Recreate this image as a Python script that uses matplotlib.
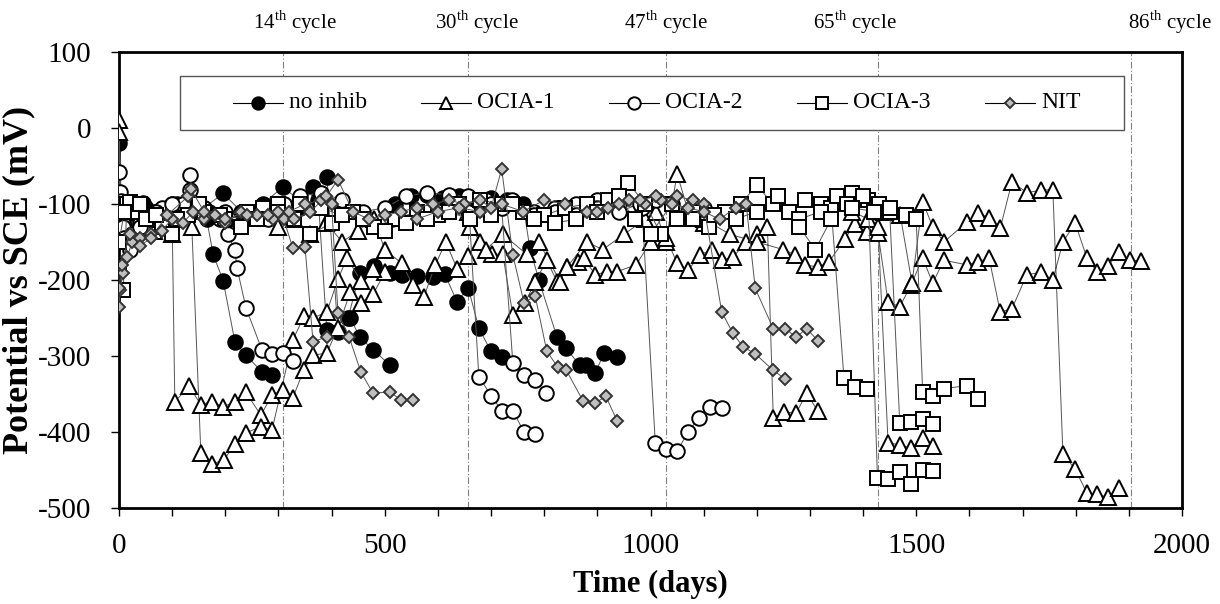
import numpy as np
import matplotlib
matplotlib.use("Agg")
import matplotlib.pyplot as plt
from matplotlib.lines import Line2D
from matplotlib.patches import Rectangle

plt.rcParams['font.family'] = ['Liberation Serif', 'DejaVu Serif']
plt.rcParams['mathtext.fontset'] = 'custom'
plt.rcParams['mathtext.rm'] = 'Liberation Serif'
plt.rcParams['axes.unicode_minus'] = False

nan = np.nan

# ---------------- data (NaN separates specimen curves) ----------------
noinhib_x = [0, 4, 10, 20, 35, 50, 70, 90, 110, 130, 150, 165, 177, 196, 218, 239, 269, 288, nan,
             0, 8, 25, 45, 70, 100, 130, 160, 196, 230, 270, 308, 340, 365, 391, 412, 435, 453, 478, 510, nan,
             308, 340, 375, 391, 431, 453, 480, 510, 532, 560, 591, 613, 636, 657, 677, 700, 720, nan,
             520, 550, 580, 610, 640, 670, 700, 730, 760, 773, 790, 824, 841, 867, 878, 896, 913, 937]
noinhib_y = [-20, -100, -125, -140, -120, -105, -110, -105, -100, -110, -105, -120, -166, -201, -281, -299, -321, -325, nan,
             -100, -135, -120, -99, -110, -100, -110, -105, -86, -110, -100, -78, -95, -78, -64, -268, -250, -275, -292, -312, nan,
             -100, -105, -95, -266, -250, -191, -182, -191, -193, -195, -196, -192, -229, -210, -263, -294, -301, nan,
             -100, -90, -88, -92, -90, -95, -92, -95, -100, -158, -200, -275, -290, -312, -312, -322, -296, -301]

ocia1_x = [0, 3, 10, 25, 45, 65, 85, 100, 105, 132, 154, 175, 196, 218, 239, 267, 288, 308, 327, 348, 365, 391, 412, 435, 455, 478, 500, nan,
           0, 5, 15, 30, 50, 75, 100, 120, 137, 154, 175, 197, 218, 239, 267, 288, 327, 348, 365, 391, 412, 429, 455, 478, nan,
           300, 330, 360, 390, 420, 450, 480, 500, 532, 553, 574, 595, 615, 636, 657, nan,
           657, 680, 702, 722, 741, 764, 783, 805, 824, 843, 864, 874, 896, 918, 937, 973, 1000, nan,
           660, 690, 722, 767, 790, 830, 843, 880, 910, 950, 990, 1010, 1029, 1050, 1071, 1100, nan,
           1030, 1050, 1071, 1093, 1115, 1134, 1155, 1180, 1200, 1220, 1231, 1251, 1274, 1294, 1315, nan,
           1100, 1150, 1200, 1250, 1272, 1291, 1315, 1336, 1366, 1384, 1407, 1428, 1447, 1469, 1490, 1512, 1531, 1552,
           1595, 1616, 1637, 1658, 1680, 1708, 1735, 1757, 1776, 1799, 1821, 1840, 1861, 1882, 1902, 1923, nan,
           1380, 1410, 1428, 1447, 1469, 1490, 1512, 1531, nan,
           1440, 1470, 1492, 1512, 1531, 1552, 1595, 1616, 1637, 1658, 1680, 1708, 1735, 1757, 1776, 1799, 1821, 1840, 1861, 1882]
ocia1_y = [10, -100, -140, -130, -120, -135, -125, -120, -360, -340, -364, -360, -367, -360, -348, -378, -351, -345, -355, -318, -299, -296, -263, -216, -230, -219, -190, nan,
           -5, -110, -125, -145, -130, -120, -140, -110, -130, -428, -442, -437, -416, -401, -393, -397, -279, -248, -250, -242, -199, -171, -201, -185, nan,
           -130, -120, -140, -125, -150, -135, -120, -160, -178, -207, -222, -180, -150, -185, -168, nan,
           -110, -150, -166, -166, -246, -230, -202, -174, -202, -183, -176, -171, -193, -189, -189, -180, -150, nan,
           -130, -160, -140, -166, -150, -202, -183, -150, -160, -140, -120, -110, -150, -60, -110, -125, nan,
           -145, -178, -187, -167, -160, -174, -170, -150, -140, -130, -382, -374, -375, -349, -373, nan,
           -120, -140, -150, -160, -167, -180, -183, -176, -146, -126, -137, -138, -229, -235, -207, -171, -204, -174,
           -180, -176, -171, -242, -238, -193, -190, -200, -150, -125, -171, -189, -181, -163, -174, -175, nan,
           -110, -120, -130, -414, -417, -421, -408, -419, nan,
           -110, -115, -204, -97, -130, -150, -124, -112, -118, -132, -71, -85, -82, -81, -429, -449, -480, -482, -486, -474]

ocia2_x = [0, 2, 4, 8, 15, 25, 40, 60, 80, 100, 120, 134, 150, 170, 190, 205, 218, 222, 239, 269, 288, 308, 327, nan,
           0, 10, 20, 40, 70, 100, 134, 160, 200, 240, 280, 310, 340, 380, 420, 460, 500, 540, 580, 620, 657,
           677, 700, 720, 741, 762, 783, nan,
           657, 690, 720, 741, 762, 783, 803, nan,
           700, 740, 780, 820, 860, 900, 940, 984, 1009, 1029, 1050, 1071, 1091, 1112, 1134, nan,
           780, 820, 860, 900, 940, 980, 1010, 1040, 1070, 1100]
ocia2_y = [-58, -84, -96, -130, -150, -140, -125, -115, -105, -110, -100, -62, -100, -110, -120, -140, -161, -184, -237, -292, -297, -296, -306, nan,
           -100, -145, -160, -130, -110, -100, -81, -105, -110, -115, -120, -100, -90, -85, -95, -110, -105, -90, -85, -88, -90,
           -327, -352, -372, -372, -400, -402, nan,
           -110, -95, -105, -309, -325, -331, -349, nan,
           -100, -95, -110, -105, -100, -95, -100, -105, -414, -423, -425, -400, -381, -367, -369, nan,
           -115, -110, -115, -105, -110, -100, -95, -100, -110, -105]

ocia3_x = [0, 8, 15, 21, 30, 50, 80, 100, 130, 160, 200, 240, 270, 300, 330, 360, 400, 440, 480, 520, 560, 600, 640,
           680, 720, 760, 800, 840, 880, 920, 958, 990, 1020, 1050, 1080, 1110, 1140, 1170, 1200, 1230, 1260, 1290,
           1320, 1340, 1364, 1385, 1407, nan,
           0, 10, 40, 70, 110, 150, 190, 230, 260, 300, 340, 380, 420, 460, 500, 540, 580, 620, 660, 700, 740, 780,
           820, 860, 900, 940, 970, 1000, 1040, 1080, 1120, 1160, 1200, 1240, 1280, 1320, 1350, 1380, 1410,
           1427, 1447, 1469, 1490, 1512, 1531, nan,
           1280, 1310, 1340, 1370, 1400, 1430, 1450, 1469, 1490, 1512, 1531, nan,
           1380, 1420, 1450, 1480, 1500, 1512, 1531, 1552, 1595, 1616]
ocia3_y = [-184, -213, -100, -97, -110, -120, -130, -140, -115, -110, -120, -110, -105, -100, -120, -140, -125, -110, -130, -120, -110, -115, -100,
           -95, -100, -110, -115, -105, -100, -95, -72, -100, -140, -120, -110, -130, -110, -100, -75, -100, -110, -95,
           -100, -105, -329, -341, -343, nan,
           -150, -110, -100, -115, -120, -100, -115, -130, -120, -110, -100, -105, -115, -120, -135, -125, -120, -110, -120, -115, -100, -120,
           -125, -120, -110, -90, -120, -140, -100, -120, -115, -120, -110, -90, -120, -110, -90, -85, -95,
           -460, -462, -453, -468, -450, -451, nan,
           -130, -160, -120, -100, -90, -100, -110, -388, -387, -383, -389, nan,
           -105, -110, -105, -115, -120, -347, -352, -343, -339, -357]

nit_x = [0, 2, 8, 15, 25, 40, 60, 80, 100, 120, 140, 160, 180, 200, 230, 260, 290, 320, 350, 380, 400,
         412, 433, 455, 478, 510, 530, 553, nan,
         0, 5, 20, 40, 60, 90, 130, 135, 160, 200, 240, 280, 310, 327, 350, 365, 391, nan,
         300, 330, 360, 390, 412, 440, 470, 500, 530, 560, 590, 620, 650, 680, 700, 720, 741, 762, 783, 805, 826, 841,
         873, 896, 916, 937, nan,
         560, 600, 640, 680, 720, 760, 800, 840, 880, 920, 960, 990, 1020, 1050, 1080, 1100, 1134, 1155, 1174, 1197, 1231, 1253, nan,
         900, 940, 980, 1010, 1040, 1070, 1100, 1130, 1160, 1180, 1197, 1231, 1253, 1274, 1294, 1315]
nit_y = [-235, -213, -191, -170, -150, -145, -140, -135, -120, -125, -110, -120, -115, -125, -110, -115, -120, -110, -100, -95, -100,
         -243, -275, -321, -349, -347, -358, -358, nan,
         -210, -180, -140, -155, -145, -115, -90, -80, -110, -120, -115, -115, -120, -158, -156, -281, -275, nan,
         -110, -120, -110, -90, -68, -110, -120, -115, -110, -105, -100, -95, -100, -95, -105, -54, -167, -230, -221, -294, -315, -318,
         -359, -362, -353, -385, nan,
         -120, -110, -105, -110, -100, -110, -95, -100, -110, -105, -95, -100, -95, -90, -95, -100, -242, -270, -288, -297, -319, -330, nan,
         -110, -100, -95, -90, -100, -105, -110, -120, -105, -100, -211, -264, -264, -275, -264, -280]

series_names = ['no inhib', 'OCIA-1', 'OCIA-2', 'OCIA-3', 'NIT']

cycle_days = [309, 657, 1029, 1428, 1904]
cycle_labels = ['14', '30', '47', '65', '86']
cycle_label_x = [331, 674, 1029, 1385, 1978]

# ---------------- figure ----------------
W, H = 1220, 604
fig = plt.figure(figsize=(W / 100, H / 100), dpi=100)
AX_L, AX_R, AX_T, AX_B = 119, 1182, 52, 508
ax = fig.add_axes([AX_L / W, 1 - AX_B / H, (AX_R - AX_L) / W, (AX_B - AX_T) / H])


def ax_frac(px, py):
    return (px - AX_L) / (AX_R - AX_L), (AX_B - py) / (AX_B - AX_T)


for d in cycle_days:
    ax.axvline(d, color='#808080', lw=0.8, ls=(0, (6, 2, 1, 2)), zorder=1)

styles = [
    dict(marker='o', ms=10.5, mfc='black', mec='black'),
    dict(marker='^', ms=11, mfc='white', mec='black'),
    dict(marker='o', ms=10.5, mfc='white', mec='black'),
    dict(marker='s', ms=10, mfc='white', mec='black'),
    dict(marker='D', ms=6.5, mfc='#bfbfbf', mec='#333333'),
]
data = [(noinhib_x, noinhib_y), (ocia1_x, ocia1_y), (ocia2_x, ocia2_y),
        (ocia3_x, ocia3_y), (nit_x, nit_y)]

for i, ((xs, ys), st) in enumerate(zip(data, styles)):
    ax.plot(xs, ys, color='#555555', lw=0.7, mew=1.4, zorder=2 + i, **st)

ax.set_xlim(0, 2000)
ax.set_ylim(-500, 100)
ax.set_xticks([0, 500, 1000, 1500, 2000])
ax.set_xticks(np.arange(0, 2001, 100), minor=True)
ax.set_yticks(np.arange(-500, 101, 100))
ax.tick_params(axis='both', which='major', direction='out', length=6, width=1, labelsize=21)
ax.tick_params(axis='y', which='major', pad=14)
ax.tick_params(axis='x', which='major', pad=12)
ax.tick_params(axis='x', which='minor', direction='out', length=6, width=1)
for s in ax.spines.values():
    s.set_linewidth(2)
    s.set_color('black')

ax.set_xlabel('Time (days)', fontsize=22, fontweight='bold', labelpad=8)
ax.set_ylabel('Potential vs SCE (mV)', fontsize=26, fontweight='bold', labelpad=2)

for lab, xpos in zip(cycle_labels, cycle_label_x):
    ax.text(xpos, ax_frac(0, 22)[1], lab + r'$^{\mathrm{th}}$' + ' cycle',
            transform=ax.get_xaxis_transform(), ha='center', va='center', fontsize=15)

# ---- legend box (single row, fixed pitch) ----
x0, y0 = ax_frac(180, 130)
x1, y1 = ax_frac(1124, 76)
ax.add_patch(Rectangle((x0, y0), x1 - x0, y1 - y0, transform=ax.transAxes,
                       facecolor='white', edgecolor='#555555', lw=1.0, zorder=20))
for i, (name, st) in enumerate(zip(series_names, styles)):
    cx = 258 + 188 * i
    lx0, ly = ax_frac(cx - 25, 103)
    lx1, _ = ax_frac(cx + 25, 103)
    mx, _ = ax_frac(cx, 103)
    tx, _ = ax_frac(cx + 31, 103)
    ax.add_line(Line2D([lx0, lx1], [ly, ly], color='black', lw=0.8,
                       transform=ax.transAxes, zorder=21))
    ax.add_line(Line2D([mx], [ly], lw=0, mew=1.4, transform=ax.transAxes,
                       zorder=22, **{**st, 'ms': st['ms'] * 0.85}))
    ax.text(tx, ly, name, transform=ax.transAxes, ha='left', va='center',
            fontsize=17, zorder=23)

fig.savefig('out.png', dpi=100)
